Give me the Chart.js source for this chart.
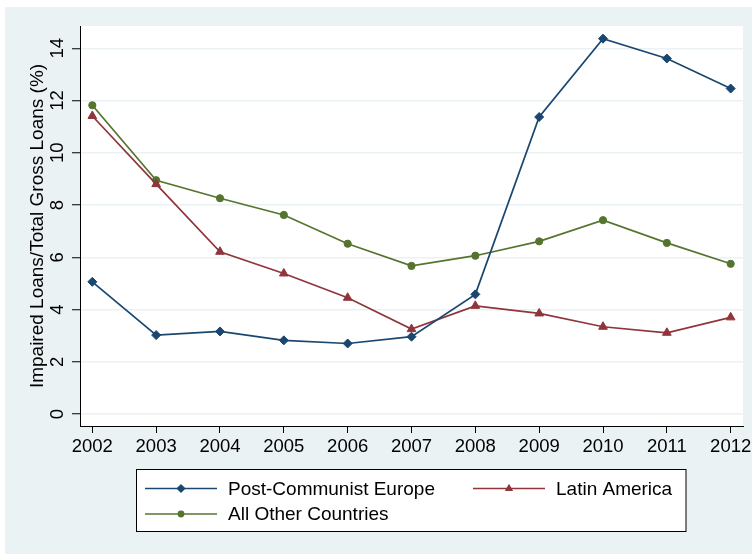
<!DOCTYPE html>
<html>
<head>
<meta charset="utf-8">
<script src="https://cdn.jsdelivr.net/npm/chart.js@4.4.1/dist/chart.umd.min.js"></script>
<style>
  html, body { margin: 0; padding: 0; background: #ffffff; }
  #wrap { width: 752px; height: 554px; }
</style>
</head>
<body>
<div id="wrap"><canvas id="chart" width="752" height="554"></canvas></div>
<script>
// Impaired loans as a share of total gross loans, by region (%)
const years = [2002, 2003, 2004, 2005, 2006, 2007, 2008, 2009, 2010, 2011, 2012];
const postCommunistEurope = [5.06, 3.02, 3.16, 2.82, 2.70, 2.96, 4.58, 11.37, 14.37, 13.61, 12.46];
const latinAmerica = [11.41, 8.80, 6.21, 5.38, 4.45, 3.25, 4.14, 3.85, 3.34, 3.11, 3.70];
const allOtherCountries = [11.82, 8.95, 8.26, 7.62, 6.52, 5.67, 6.06, 6.61, 7.42, 6.55, 5.75];
const yTicks = [0, 2, 4, 6, 8, 10, 12, 14];
const seriesNames = ['Post-Communist Europe', 'Latin America', 'All Other Countries'];
const yTitle = 'Impaired Loans/Total Gross Loans (%)';

const FONT = '"Liberation Sans", Arial, Helvetica, sans-serif';
const NAVY = '#1A476F', MAROON = '#90353B', FOREST = '#55752F', PANEL = '#EAF2F3';

Chart.defaults.font.family = FONT;
Chart.defaults.color = '#000000';

function toPoints(values) {
  return years.map((yr, i) => ({ x: yr, y: values[i] }));
}

function series(label, values, color, style, radius) {
  return {
    label,
    data: toPoints(values),
    borderColor: color,
    backgroundColor: color,
    borderWidth: 1.7,
    pointStyle: style,
    pointRadius: radius,
    pointBorderWidth: 1,
    pointBackgroundColor: color,
    pointBorderColor: color,
    tension: 0
  };
}

// Light panel behind everything, white plotting region
const panelPlugin = {
  id: 'panel',
  beforeDraw(chart) {
    const { ctx, chartArea: a } = chart;
    ctx.save();
    ctx.fillStyle = '#ffffff';
    ctx.fillRect(0, 0, chart.width, chart.height);
    ctx.fillStyle = PANEL;
    ctx.fillRect(5, 7, chart.width - 5, chart.height - 7);
    ctx.fillStyle = '#ffffff';
    ctx.fillRect(a.left, a.top, a.right - a.left, a.bottom - a.top);
    ctx.restore();
  }
};

function drawMarker(ctx, style, x, y, r) {
  ctx.beginPath();
  if (style === 'rectRot') {
    ctx.moveTo(x, y - r); ctx.lineTo(x + r, y); ctx.lineTo(x, y + r); ctx.lineTo(x - r, y);
  } else if (style === 'triangle') {
    const h = r * 0.5, w = r * Math.cos(Math.PI / 6);
    ctx.moveTo(x, y - r); ctx.lineTo(x + w, y + h); ctx.lineTo(x - w, y + h);
  } else {
    ctx.arc(x, y, r, 0, Math.PI * 2);
  }
  ctx.closePath();
  ctx.fill();
}

// Boxed two-column key below the axis
const keyPlugin = {
  id: 'boxedKey',
  afterDraw(chart) {
    const { ctx } = chart;
    const box = { x: 136.5, y: 469.5, w: 549.5, h: 62 };
    const slots = [
      { x: 145, y: 488.5 },
      { x: 473, y: 488.5 },
      { x: 145, y: 514 }
    ];
    const lineLen = 72;
    const markerSize = { rectRot: 4.6, triangle: 4.8, circle: 3.4 };
    ctx.save();
    ctx.fillStyle = '#ffffff';
    ctx.fillRect(box.x, box.y, box.w, box.h);
    ctx.strokeStyle = '#000000';
    ctx.lineWidth = 1;
    ctx.strokeRect(box.x, box.y, box.w, box.h);
    chart.data.datasets.forEach((ds, i) => {
      const s = slots[i];
      ctx.strokeStyle = ds.borderColor;
      ctx.fillStyle = ds.borderColor;
      ctx.lineWidth = 1.5;
      ctx.beginPath();
      ctx.moveTo(s.x, s.y);
      ctx.lineTo(s.x + lineLen, s.y);
      ctx.stroke();
      drawMarker(ctx, ds.pointStyle, s.x + lineLen / 2, s.y, markerSize[ds.pointStyle]);
      ctx.fillStyle = '#000000';
      ctx.font = '19px ' + FONT;
      ctx.textBaseline = 'middle';
      ctx.textAlign = 'left';
      ctx.fillText(ds.label, s.x + lineLen + 11, s.y + 1);
    });
    ctx.restore();
  }
};

new Chart(document.getElementById('chart'), {
  type: 'line',
  data: {
    datasets: [
      series(seriesNames[0], postCommunistEurope, NAVY, 'rectRot', 4.5),
      series(seriesNames[1], latinAmerica, MAROON, 'triangle', 5),
      series(seriesNames[2], allOtherCountries, FOREST, 'circle', 3.6)
    ]
  },
  options: {
    responsive: false,
    devicePixelRatio: 1,
    animation: false,
    layout: { padding: { left: 5, top: 26, right: 9, bottom: 98 } },
    plugins: { legend: { display: false }, tooltip: { enabled: false } },
    scales: {
      x: {
        type: 'linear',
        min: 2001.807,
        max: 2012.193,
        afterBuildTicks: s => { s.ticks = years.map(v => ({ value: v })); },
        afterFit: s => { s.height = 30; s.paddingLeft = 0; s.paddingRight = 0; },
        ticks: {
          callback: v => String(v),
          font: { size: 18.5 },
          color: '#000000',
          padding: 3,
          maxRotation: 0,
          autoSkip: false
        },
        grid: { drawOnChartArea: false, drawTicks: true, tickLength: 7, tickColor: '#000000', tickWidth: 1 },
        border: { display: true, color: '#000000', width: 1 }
      },
      y: {
        type: 'linear',
        min: -0.459,
        max: 14.854,
        afterBuildTicks: s => { s.ticks = yTicks.map(v => ({ value: v })); },
        afterFit: s => { s.width = 75; s.paddingTop = 0; s.paddingBottom = 0; },
        ticks: {
          callback: v => String(v),
          font: { size: 18.5 },
          color: '#000000',
          minRotation: 90,
          maxRotation: 90,
          crossAlign: 'center',
          padding: 4
        },
        grid: { color: PANEL, lineWidth: 1.5, drawTicks: true, tickLength: 8, tickColor: '#000000', tickWidth: 1 },
        border: { display: true, color: '#000000', width: 1 },
        title: {
          display: true,
          text: yTitle,
          font: { size: 19 },
          color: '#000000',
          padding: { top: 21.5, bottom: 0 }
        }
      }
    }
  },
  plugins: [panelPlugin, keyPlugin]
});
</script>
</body>
</html>
